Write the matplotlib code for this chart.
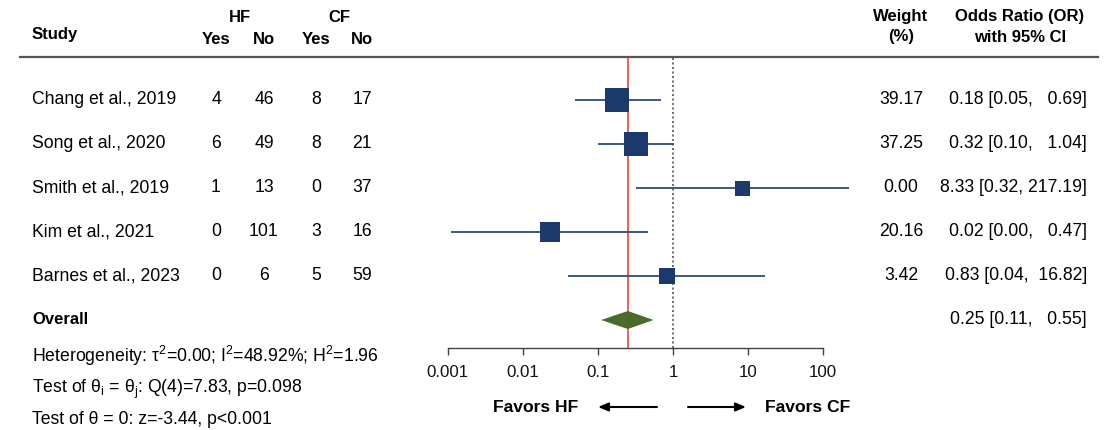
import matplotlib
matplotlib.use('Agg')
import matplotlib.pyplot as plt
import numpy as np

plt.rcParams['font.family'] = ['Liberation Sans', 'DejaVu Sans']
plt.rcParams['mathtext.fontset'] = 'custom'
plt.rcParams['mathtext.rm'] = 'Liberation Sans'
plt.rcParams['mathtext.it'] = 'Liberation Sans:italic'
plt.rcParams['mathtext.bf'] = 'Liberation Sans:bold'

# ---------------- data ----------------
studies = ["Chang et al., 2019", "Song et al., 2020", "Smith et al., 2019",
           "Kim et al., 2021", "Barnes et al., 2023"]
hf_yes = [4, 6, 1, 0, 0]
hf_no = [46, 49, 13, 101, 6]
cf_yes = [8, 8, 0, 3, 5]
cf_no = [17, 21, 37, 16, 59]
weights = [39.17, 37.25, 0.00, 20.16, 3.42]
odds_ratio = [0.18, 0.32, 8.33, 0.023, 0.83]
ci_low = [0.05, 0.10, 0.32, 0.0011, 0.04]
ci_high = [0.69, 1.04, 217.19, 0.47, 16.82]
overall_or = 0.25
overall_low = 0.11
overall_high = 0.55
tick_vals = [0.001, 0.01, 0.1, 1, 10, 100]
tick_labels = ["0.001", "0.01", "0.1", "1", "10", "100"]
het_text = r"Heterogeneity: τ$^{2}$=0.00; I$^{2}$=48.92%; H$^{2}$=1.96"
q_text = r"Test of θ$_{\mathrm{i}}$ = θ$_{\mathrm{j}}$: Q(4)=7.83, p=0.098"
z_text = "Test of θ = 0: z=-3.44, p<0.001"

# ---------------- layout ----------------
W, H = 1107, 430
fig = plt.figure(figsize=(W / 100, H / 100), dpi=100)
fig.patch.set_facecolor('white')

tax = fig.add_axes([0, 0, 1, 1])
tax.set_xlim(0, W)
tax.set_ylim(H, 0)
tax.axis('off')

# forest axes: 0.001 -> 447.7px, 100 -> 823.3px
ax_left, ax_right = 420, 860
ppd = (823.3 - 447.7) / 5.0
lo_log = -3 - (447.7 - ax_left) / ppd
hi_log = 2 + (ax_right - 823.3) / ppd
ax = fig.add_axes([ax_left / W, 0, (ax_right - ax_left) / W, 1])
ax.set_xscale('log')
ax.set_xlim(10 ** lo_log, 10 ** hi_log)
ax.set_ylim(H, 0)
ax.patch.set_alpha(0)
for s in ['top', 'left', 'right']:
    ax.spines[s].set_visible(False)
axis_y = 348
ax.spines['bottom'].set_position(('data', axis_y))
ax.spines['bottom'].set_bounds(tick_vals[0], tick_vals[-1])
ax.spines['bottom'].set_color('#444444')
ax.spines['bottom'].set_linewidth(1.0)
ax.set_xticks(tick_vals)
ax.set_xticklabels(tick_labels)
ax.xaxis.set_minor_locator(matplotlib.ticker.NullLocator())
ax.tick_params(axis='x', direction='out', length=5, width=1.0, colors='#444444',
               labelcolor='#111111', labelsize=12.2, pad=7)
ax.set_yticks([])

row0, step = 100, 44
rows_y = [row0 + i * step for i in range(len(studies))]
overall_y = row0 + step * len(studies)
top_line_y = 57

navy = '#1B3A6B'
ci_col = '#2A4B85'
ax.plot([overall_or, overall_or], [top_line_y + 1, axis_y], color='#E8453C', lw=1.2, zorder=1)
ax.plot([1, 1], [top_line_y + 1, axis_y], color='#555555', lw=1.2, ls=(0, (1.2, 1.5)), zorder=1)

for i, y in enumerate(rows_y):
    ax.plot([ci_low[i], ci_high[i]], [y, y], color=ci_col, lw=1.3, zorder=2, solid_capstyle='butt')
    side_px = 15 + 0.25 * weights[i]
    ax.plot([odds_ratio[i]], [y], marker='s', ms=side_px * 0.72, color=navy,
            mec=navy, mew=0, zorder=3, ls='none')

dh = 9
ax.fill([overall_low, overall_or, overall_high, overall_or],
        [overall_y, overall_y - dh, overall_y, overall_y + dh],
        color='#4B6A2B', lw=0, zorder=3)

# ---------------- text table ----------------
fs = 12.7
fsb = 12
tax.plot([20, 1098], [top_line_y, top_line_y], color='#555555', lw=1.6)
tax.text(32, 34, "Study", fontsize=fsb, fontweight='bold', ha='left', va='center')
tax.text(240, 18, "HF", fontsize=fsb, fontweight='bold', ha='center', va='center')
tax.text(339, 18, "CF", fontsize=fsb, fontweight='bold', ha='center', va='center')
col_x = [216, 264, 316, 362]
for x, lab in zip(col_x, ["Yes", "No", "Yes", "No"]):
    tax.text(x, 40, lab, fontsize=fsb, fontweight='bold', ha='center', va='center')
tax.text(901, 17, "Weight", fontsize=fsb, fontweight='bold', ha='center', va='center')
tax.text(901, 37, "(%)", fontsize=fsb, fontweight='bold', ha='center', va='center')
tax.text(1020, 17, "Odds Ratio (OR)", fontsize=fsb, fontweight='bold', ha='center', va='center')
tax.text(1020, 37, "with 95% CI", fontsize=fsb, fontweight='bold', ha='center', va='center')

for i, y in enumerate(rows_y):
    tax.text(32, y, studies[i], fontsize=fs, ha='left', va='center')
    for x, v in zip(col_x, [hf_yes[i], hf_no[i], cf_yes[i], cf_no[i]]):
        tax.text(x, y, str(v), fontsize=fs, ha='center', va='center')
    tax.text(901, y, f"{weights[i]:.2f}", fontsize=fs, ha='center', va='center')
    tax.text(1087, y, f"{odds_ratio[i]:.2f} [{ci_low[i]:.2f}, {ci_high[i]:>6.2f}]",
             fontsize=fs, ha='right', va='center')

tax.text(32, overall_y, "Overall", fontsize=fsb, fontweight='bold', ha='left', va='center')
tax.text(1087, overall_y, f"{overall_or:.2f} [{overall_low:.2f}, {overall_high:>6.2f}]",
         fontsize=fs, ha='right', va='center')
tax.text(32, 362, het_text, fontsize=fs, ha='left', va='baseline')
tax.text(32, 393, q_text, fontsize=fs, ha='left', va='baseline')
tax.text(32, 424, z_text, fontsize=fs, ha='left', va='baseline')

# favors labels and arrows
tax.text(578, 407, "Favors HF", fontsize=12.6, fontweight='bold', ha='right', va='center')
tax.text(765, 407, "Favors CF", fontsize=12.6, fontweight='bold', ha='left', va='center')
arrow_kw = dict(arrowstyle='-|>,head_length=0.6,head_width=0.25', color='black', lw=1.5,
                shrinkA=0, shrinkB=0)
tax.annotate("", xy=(598, 407), xytext=(657, 407), arrowprops=arrow_kw)
tax.annotate("", xy=(746, 407), xytext=(688, 407), arrowprops=arrow_kw)

fig.savefig('out.png', dpi=100, facecolor='white')
